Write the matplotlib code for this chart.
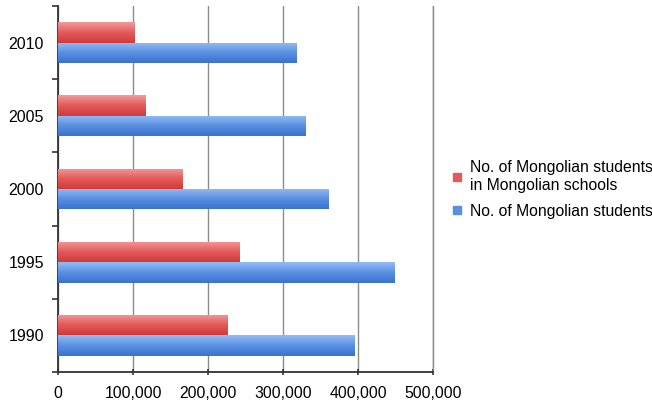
import numpy as np
import matplotlib
matplotlib.use("Agg")
import matplotlib.pyplot as plt
from matplotlib.ticker import FuncFormatter, FixedLocator
from matplotlib.colors import LinearSegmentedColormap
from matplotlib.lines import Line2D

years = ["1990", "1995", "2000", "2005", "2010"]
in_schools = [226000, 242000, 166000, 117000, 102000]
students = [395000, 448000, 361000, 330000, 318000]
label_schools = "No. of Mongolian students\nin Mongolian schools"
label_students = "No. of Mongolian students"
xticks = [0, 100000, 200000, 300000, 400000, 500000]

plt.rcParams['font.family'] = ['Liberation Sans', 'DejaVu Sans']

fig = plt.figure(figsize=(6.52, 4.01), dpi=100)
ax = fig.add_axes([58/652, 1-372/401, (433-58)/652, (372-6)/401])

y = np.arange(len(years))
h = 0.28
red_cmap = LinearSegmentedColormap.from_list("r", ["#cf3b3b", "#e45a5a", "#f39a9a"])
blue_cmap = LinearSegmentedColormap.from_list("b", ["#3b72cc", "#5a90e2", "#94bcf6"])

bars_r = ax.barh(y + h/2, in_schools, height=h, color="#e35a5a", zorder=3)
bars_b = ax.barh(y - h/2, students, height=h, color="#5a8fe0", zorder=3)

grad = np.linspace(0, 1, 64).reshape(-1, 1)
for bars, cmap in ((bars_r, red_cmap), (bars_b, blue_cmap)):
    for p in bars:
        x0, y0 = p.get_x(), p.get_y()
        w, hh = p.get_width(), p.get_height()
        im = ax.imshow(grad, cmap=cmap, aspect='auto', origin='lower',
                       extent=[x0, x0 + w, y0, y0 + hh], zorder=4,
                       interpolation='bilinear')
        im.set_clip_path(p)

ax.set_xlim(0, 500000)
ax.set_ylim(-0.5, len(years) - 0.5)

ax.xaxis.set_major_locator(FixedLocator(xticks))
ax.xaxis.set_major_formatter(FuncFormatter(lambda v, _: f"{int(v):,}"))
ax.grid(axis='x', color='#8c8c8c', linewidth=1.0, zorder=0)
ax.set_axisbelow(True)

ax.yaxis.set_major_locator(FixedLocator(np.arange(-0.5, len(years), 1.0)))
ax.yaxis.set_major_formatter(FuncFormatter(lambda v, _: ""))
ax.yaxis.set_minor_locator(FixedLocator(y))
ax.set_yticklabels(years, minor=True)
ax.tick_params(axis='y', which='minor', length=0, pad=10, labelsize=11.5)
ax.tick_params(axis='y', which='major', length=4.5, width=1.2, color='#333333', direction='out')
ax.tick_params(axis='x', which='major', length=4, width=1.2, color='#333333',
               direction='inout', pad=8, labelsize=11.3)

ax.spines['top'].set_visible(False)
ax.spines['right'].set_color('#8c8c8c')
ax.spines['right'].set_linewidth(1.0)
for s in ('left', 'bottom'):
    ax.spines[s].set_color('#333333')
    ax.spines[s].set_linewidth(1.3)

handles = [Line2D([], [], marker='s', linestyle='none', markersize=6,
                  markerfacecolor='#e35a5a', markeredgecolor='#e35a5a'),
           Line2D([], [], marker='s', linestyle='none', markersize=6,
                  markerfacecolor='#5a8fe0', markeredgecolor='#5a8fe0')]
fig.legend(handles, [label_schools, label_students], loc='upper left',
           bbox_to_anchor=(443/652, 1-154/401), frameon=False, fontsize=11.3,
           handletextpad=0.3, handlelength=1.0, labelspacing=0.7,
           borderaxespad=0)

fig.savefig("out.png", dpi=100)
